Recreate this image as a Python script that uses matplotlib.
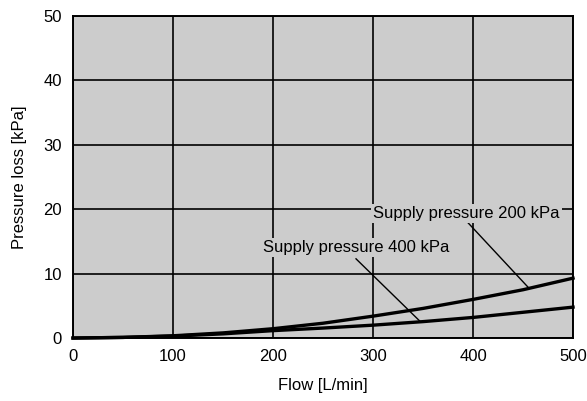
import matplotlib
matplotlib.use("Agg")
import matplotlib.pyplot as plt

plt.rcParams['font.family'] = ['Liberation Sans', 'DejaVu Sans']

flow = [0, 50, 100, 150, 200, 250, 300, 350, 400, 450, 500]
loss_200kpa = [0, 0.1, 0.35, 0.8, 1.45, 2.3, 3.4, 4.6, 6.0, 7.5, 9.3]
loss_400kpa = [0, 0.1, 0.3, 0.65, 1.15, 1.55, 2.0, 2.55, 3.2, 4.0, 4.8]

x_ticks = [0, 100, 200, 300, 400, 500]
y_ticks = [0, 10, 20, 30, 40, 50]

label_200 = "Supply pressure 200 kPa"
label_400 = "Supply pressure 400 kPa"

fs = 12

fig = plt.figure(figsize=(5.87, 4.01), dpi=100)
ax = fig.add_axes([0.1244, 0.157, 0.8518, 0.803])
ax.set_facecolor('#cccccc')

ax.set_xlim(0, 500)
ax.set_ylim(0, 50)
ax.set_xticks(x_ticks)
ax.set_yticks(y_ticks)
ax.grid(True, color='black', linewidth=1.2, zorder=1)
ax.set_axisbelow(True)
ax.tick_params(length=0, labelsize=fs, pad=8)
for s in ax.spines.values():
    s.set_linewidth(1.4)
    s.set_color('black')

ax.plot(flow, loss_200kpa, color='black', linewidth=2.4, zorder=3, clip_on=False)
ax.plot(flow, loss_400kpa, color='black', linewidth=2.4, zorder=3, clip_on=False)

box = dict(facecolor='#cccccc', edgecolor='none', pad=1.5)
ax.text(300, 19.3, label_200, fontsize=fs, va='center', ha='left', bbox=box, zorder=4)
ax.text(190, 14.1, label_400, fontsize=fs, va='center', ha='left', bbox=box, zorder=4)

# leader lines from labels to curves
ax.plot([395, 455], [17.9, 7.9], color='black', linewidth=1.0, zorder=3)
ax.plot([283, 347], [12.3, 2.6], color='black', linewidth=1.0, zorder=3)

ax.set_xlabel("Flow [L/min]", fontsize=fs, labelpad=10)
ax.set_ylabel("Pressure loss [kPa]", fontsize=fs, labelpad=12)

fig.savefig("out.png", dpi=100)
